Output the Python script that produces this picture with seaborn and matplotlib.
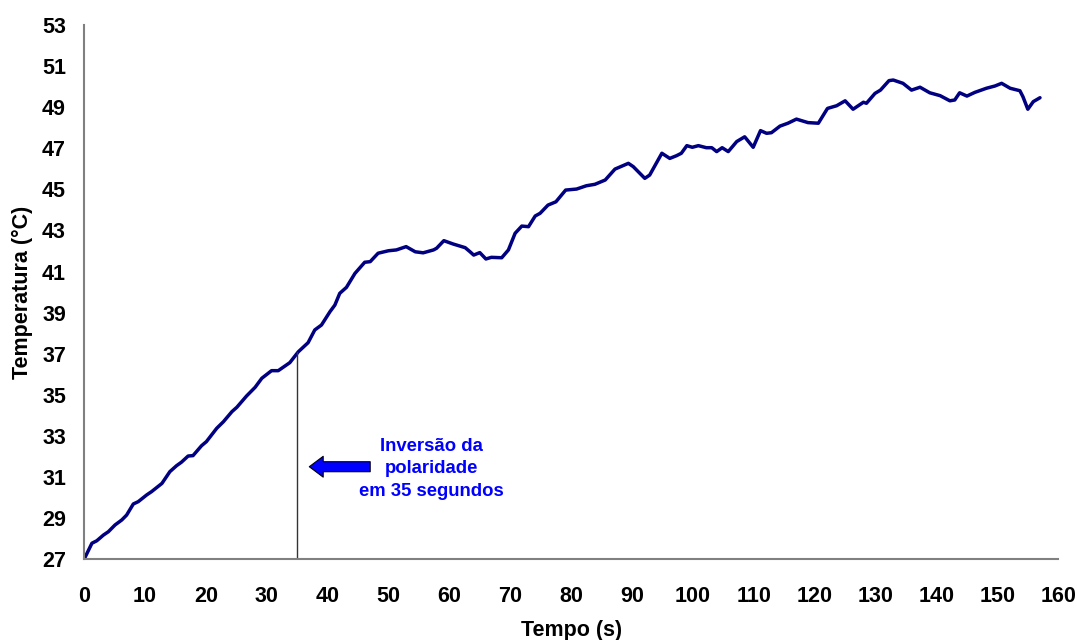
import numpy as np
import pandas as pd
import matplotlib
matplotlib.use("Agg")
import matplotlib.pyplot as plt
import seaborn as sns

# Tempo (s) x Temperatura (C)
tempo = [0, 1.3, 2.1, 3.2, 4.0, 5.1, 6.2, 7.0, 8.1, 8.9,
         10.3, 11.1, 12.8, 14.1, 15.2, 16.0, 17.1, 17.9, 19.3, 20.1,
         21.8, 22.9, 24.3, 25.1, 26.7, 28.1, 29.2, 30.8, 31.9, 33.8,
         35.2, 36.8, 37.9, 39.0, 40.4, 41.2, 42.0, 43.1, 44.5, 46.1,
         47.0, 48.3, 50.0, 51.3, 52.9, 54.4, 55.7, 57.4, 57.9, 59.1,
         60.6, 62.6, 63.4, 64.0, 65.0, 66.0, 66.9, 68.6, 69.7, 70.8,
         71.9, 73.0, 74.1, 74.9, 76.2, 77.5, 79.1, 80.9, 82.5, 83.9,
         85.6, 87.2, 89.4, 90.2, 92.1, 92.9, 94.9, 96.2, 97.3, 98.1,
         99.0, 99.9, 100.9, 102.2, 103.1, 103.9, 104.8, 105.8, 107.2, 108.5,
         109.9, 111.1, 112.1, 112.9, 114.3, 115.6, 117.0, 118.9, 120.6, 122.1,
         123.6, 125.0, 126.3, 128.0, 128.5, 129.9, 130.8, 132.2, 132.9, 134.5,
         135.9, 137.3, 138.9, 140.6, 142.2, 143.0, 143.8, 145.0, 146.3, 148.2,
         149.6, 150.7, 152.1, 153.7, 154.2, 155.0, 155.9, 157.0]

temperatura = [27.0, 27.79, 27.91, 28.19, 28.35, 28.68, 28.92, 29.16, 29.70, 29.81,
               30.14, 30.30, 30.70, 31.27, 31.56, 31.73, 32.03, 32.05, 32.53, 32.73,
               33.38, 33.70, 34.19, 34.40, 34.95, 35.37, 35.81, 36.18, 36.18, 36.57,
               37.10, 37.54, 38.16, 38.40, 39.05, 39.37, 39.94, 40.23, 40.91, 41.45,
               41.48, 41.89, 42.01, 42.05, 42.21, 41.96, 41.91, 42.05, 42.13, 42.50,
               42.34, 42.16, 41.96, 41.80, 41.92, 41.61, 41.69, 41.67, 42.05, 42.86,
               43.21, 43.18, 43.70, 43.83, 44.23, 44.39, 44.96, 45.01, 45.17, 45.24,
               45.45, 45.98, 46.26, 46.10, 45.53, 45.69, 46.75, 46.50, 46.63, 46.75,
               47.12, 47.04, 47.12, 47.02, 47.02, 46.83, 47.02, 46.83, 47.32, 47.55,
               47.04, 47.85, 47.72, 47.75, 48.07, 48.21, 48.41, 48.24, 48.21, 48.93,
               49.06, 49.30, 48.89, 49.23, 49.18, 49.66, 49.82, 50.28, 50.31, 50.15,
               49.82, 49.96, 49.69, 49.55, 49.30, 49.34, 49.69, 49.53, 49.71, 49.91,
               50.02, 50.15, 49.91, 49.79, 49.50, 48.89, 49.26, 49.45]

x_ticks = list(range(0, 161, 10))
y_ticks = list(range(27, 54, 2))

# inversao da polaridade
t_inversao = 35
T_inversao = 37.1
texto_inversao = "Inversão da\npolaridade\nem 35 segundos"

df = pd.DataFrame({"Tempo": tempo, "Temperatura": temperatura})

sns.set_style("white")
plt.rcParams['font.family'] = ['Liberation Sans', 'DejaVu Sans']
plt.rcParams['font.weight'] = 'bold'

fig = plt.figure(figsize=(10.77, 6.40), dpi=100)
ax = fig.add_axes([0.078, 0.1258, 0.9046, 0.8356])

sns.lineplot(data=df, x="Tempo", y="Temperatura", color='#000080', linewidth=2.5,
             solid_joinstyle='round', solid_capstyle='round', ax=ax)

# linha vertical no instante da inversao
ax.plot([t_inversao, t_inversao], [27, T_inversao], color='#333333', linewidth=1)

# seta + texto
ax.annotate('', xy=(37.0, 31.51), xytext=(47.0, 31.51),
            arrowprops=dict(arrowstyle='simple,head_length=10,head_width=15,tail_width=7.2',
                            fc='#0000FF', ec='black', lw=0.8, shrinkA=0, shrinkB=0,
                            mutation_scale=1))
ax.text(57.1, 31.40, texto_inversao, color='#0000FF', fontsize=13.3, fontweight='bold',
        ha='center', va='center', multialignment='center', linespacing=1.45)

ax.set_xlim(0, 160)
ax.set_ylim(27, 53)
ax.set_xticks(x_ticks)
ax.set_yticks(y_ticks)

for s in ['top', 'right']:
    ax.spines[s].set_visible(False)
for s in ['left', 'bottom']:
    ax.spines[s].set_color('#808080')
    ax.spines[s].set_linewidth(1.5)

ax.tick_params(axis='x', length=5, width=1.2, color='#404040', pad=14, labelsize=15.5, labelcolor='black')
ax.tick_params(axis='y', length=5, width=1.2, color='#404040', pad=8, labelsize=15.5, labelcolor='black')
for t in ax.get_xticklabels() + ax.get_yticklabels():
    t.set_fontweight('bold')

ax.set_xlabel('Tempo (s)', fontsize=15.5, fontweight='bold', color='black')
ax.set_ylabel('Temperatura (°C)', fontsize=15.5, fontweight='bold', color='black')
ax.xaxis.set_label_coords(0.5, -0.113)
ax.yaxis.set_label_coords(-0.052, 0.5)

plt.savefig('out.png', dpi=100)
